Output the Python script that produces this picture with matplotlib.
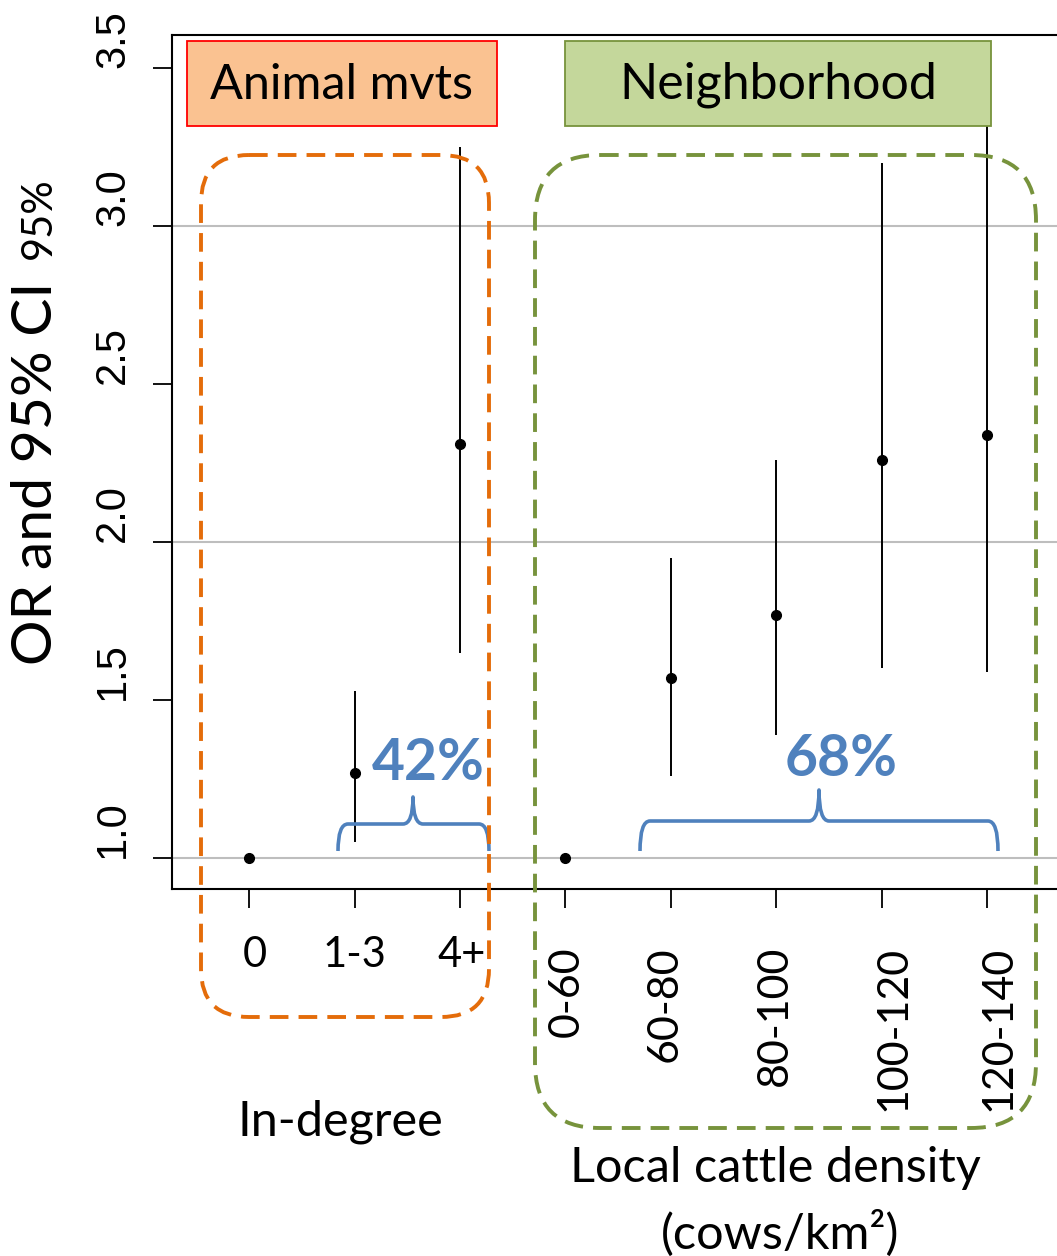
import matplotlib
matplotlib.use("Agg")
import matplotlib.pyplot as plt
from matplotlib.patches import FancyBboxPatch, Rectangle, PathPatch
from matplotlib.path import Path

# ---- data -------------------------------------------------------------
indegree_labels = ["0", "1-3", "4+"]
density_labels = ["0-60", "60-80", "80-100", "100-120", "120-140"]

odds_ratio = [1.00, 1.27, 2.31, 1.00, 1.57, 1.77, 2.26, 2.34]
ci_low = [1.00, 1.05, 1.65, 1.00, 1.26, 1.39, 1.60, 1.59]
ci_high = [1.00, 1.53, 3.25, 1.00, 1.95, 2.26, 3.20, 3.45]

y_ticks = [1.0, 1.5, 2.0, 2.5, 3.0, 3.5]
grid_levels = [1.0, 2.0, 3.0]

indegree_share = "42%"
density_share = "68%"

W, H = 1057, 1256
fig = plt.figure(figsize=(W / 100, H / 100), dpi=100)

# main plotting region (pixel box -> figure fraction)
left_px, right_px, top_px, bottom_px = 172, 1057, 35, 889
ax = fig.add_axes([left_px / W, 1 - bottom_px / H,
                   (right_px - left_px) / W, (bottom_px - top_px) / H])

x = list(range(1, len(odds_ratio) + 1))
ax.set_xlim(0.268, 8.665)
ax.set_ylim(0.902, 3.604)

for g in grid_levels:
    ax.axhline(g, color="#bebebe", lw=1.5, zorder=1)

for xi, lo, hi in zip(x, ci_low, ci_high):
    if hi > lo:
        ax.vlines(xi, lo, hi, color="black", lw=1.4, zorder=2)
ax.plot(x, odds_ratio, "o", color="black", ms=7, zorder=3)

ax.spines["right"].set_visible(False)
for s in ("left", "bottom", "top"):
    ax.spines[s].set_linewidth(1.5)

ax.set_xticks(x)
ax.set_xticklabels([])
ax.set_yticks(y_ticks)
ax.set_yticklabels([f"{v:.1f}" for v in y_ticks], rotation=90, va="bottom",
                   fontfamily="Liberation Sans", fontsize=30)
ax.tick_params(axis="both", length=14, width=1.3, direction="out")
ax.tick_params(axis="y", pad=14)

# ---- overlay in pixel coordinates --------------------------------------
ov = fig.add_axes([0, 0, 1, 1])
ov.set_xlim(0, W)
ov.set_ylim(H, 0)
ov.axis("off")
ov.patch.set_alpha(0)

sans = "Lato"

# axis titles
ov.text(37, 473, "OR and 95% CI", rotation=90, ha="center", va="center",
        fontfamily=sans, fontsize=41)
ov.text(39, 218, "95%", rotation=90, ha="center", va="center",
        fontfamily=sans, fontsize=30)

# category labels
ind_pos = [255, 354, 462]
for px, lab in zip(ind_pos, indegree_labels):
    ov.text(px, 955, lab, ha="center", va="center", fontfamily=sans,
            fontsize=30)
den_pos = [567, 665, 775, 893, 998]
for px, lab in zip(den_pos, density_labels):
    ov.text(px, 946, lab, rotation=90, ha="center", va="top",
            fontfamily=sans, fontsize=31)

ov.text(340, 1122, "In-degree", ha="center", va="center",
        fontfamily=sans, fontsize=35)
ov.text(775, 1168, "Local cattle density", ha="center", va="center",
        fontfamily=sans, fontsize=35)
ov.text(780, 1233, "(cows/km²)", ha="center", va="center",
        fontfamily=sans, fontsize=35)

# header boxes
ov.add_patch(Rectangle((187, 41), 310, 85, facecolor="#fac291",
                       edgecolor="#ff0000", lw=1.3, zorder=5))
ov.text(342, 85, "Animal mvts", ha="center", va="center",
        fontfamily=sans, fontsize=35, zorder=6)
ov.add_patch(Rectangle((565, 41), 426, 85, facecolor="#c4d79b",
                       edgecolor="#77933c", lw=1.3, zorder=5))
ov.text(778, 85, "Neighborhood", ha="center", va="center",
        fontfamily=sans, fontsize=36, zorder=6)

# dashed group outlines
dash = (0, (4.8, 2.6))
ov.add_patch(FancyBboxPatch((201, 155), 288, 862,
                            boxstyle="round,pad=0,rounding_size=48",
                            fill=False, edgecolor="#e46c0a", lw=2.8,
                            linestyle=dash, zorder=7))
ov.add_patch(FancyBboxPatch((535, 155), 501, 973,
                            boxstyle="round,pad=0,rounding_size=65",
                            fill=False, edgecolor="#77933c", lw=2.8,
                            linestyle=dash, zorder=7))


def brace(x0, x1, xm, y_end, y_bar, y_tip, r=10):
    verts = [(x0, y_end), (x0, y_bar), (x0 + r, y_bar),
             (xm - r, y_bar), (xm, y_bar), (xm, y_tip),
             (xm, y_bar), (xm + r, y_bar),
             (x1 - r, y_bar), (x1, y_bar), (x1, y_end)]
    codes = [Path.MOVETO, Path.CURVE3, Path.CURVE3,
             Path.LINETO, Path.CURVE3, Path.CURVE3,
             Path.CURVE3, Path.CURVE3,
             Path.LINETO, Path.CURVE3, Path.CURVE3]
    ov.add_patch(PathPatch(Path(verts, codes), fill=False,
                           edgecolor="#4f81bd", lw=2.6, zorder=6,
                           capstyle="butt", joinstyle="round"))


brace(338, 489, 413, 851, 824, 797)
brace(640, 998, 819, 851, 821, 790)

ov.text(428, 764, indegree_share, ha="center", va="center",
        fontfamily=sans, fontweight="bold", fontsize=41,
        color="#4f81bd", zorder=6)
ov.text(841, 759, density_share, ha="center", va="center",
        fontfamily=sans, fontweight="bold", fontsize=41,
        color="#4f81bd", zorder=6)

fig.savefig("out.png", dpi=100)
